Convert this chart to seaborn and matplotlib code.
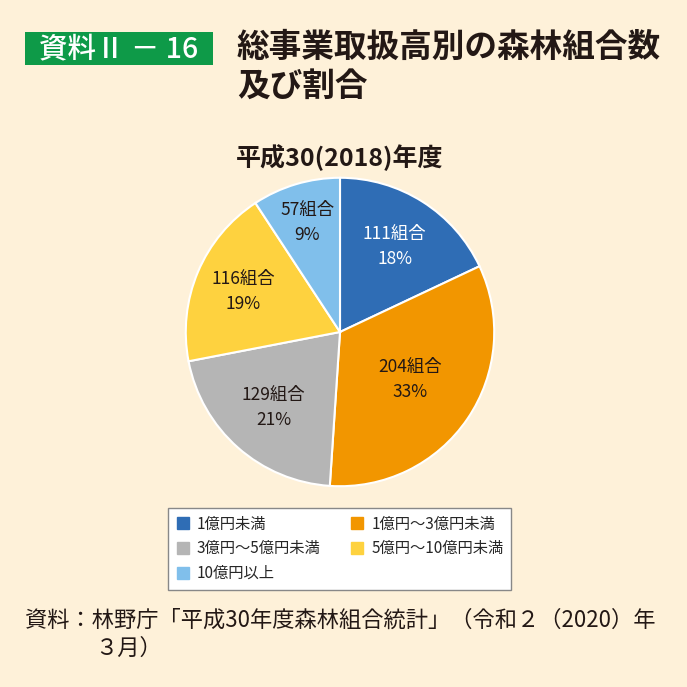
import matplotlib
matplotlib.use("Agg")
import matplotlib.pyplot as plt
import seaborn as sns
from matplotlib.patches import Rectangle
from matplotlib.lines import Line2D

sns.set_theme(style="white")
plt.rcParams['font.family'] = ['Noto Sans CJK JP', 'DejaVu Sans']

categories = ["1億円未満", "1億円～3億円未満", "3億円～5億円未満", "5億円～10億円未満", "10億円以上"]
counts = [111, 204, 129, 116, 57]
percents = [18, 33, 21, 19, 9]
colors = ["#2f6db5", "#f29600", "#b5b5b5", "#fed23f", "#80bfeb"]
label_colors = ["white", "#231815", "#231815", "#231815", "#231815"]
label_dist = [0.66, 0.55, 0.65, 0.68, 0.74]

BG = "#fef1d9"
fig = plt.figure(figsize=(6.87, 6.87), dpi=100, facecolor=BG)

# Title block
fig.patches.append(Rectangle((25/687, 1-65/687), 188/687, 33/687, transform=fig.transFigure,
                             facecolor="#0e9a48", edgecolor="none"))
fig.text(119/687, 1-49/687, "資料Ⅱ － 16", color="white", fontsize=20.5, ha="center", va="center",
         fontweight="medium")
fig.text(237/687, 1-47/687, "総事業取扱高別の森林組合数", color="#231815", fontsize=23.5,
         ha="left", va="center", fontweight="bold")
fig.text(237/687, 1-86/687, "及び割合", color="#231815", fontsize=23.5,
         ha="left", va="center", fontweight="bold")

fig.text(340/687, 1-158/687, "平成30(2018)年度", color="#231815", fontsize=18,
         ha="center", va="center", fontweight="bold")

# Pie
ax = fig.add_axes([185/687, 1-487/687, 310/687, 310/687])
ax.set_facecolor(BG)
labels = [f"{c}組合\n{p}%" for c, p in zip(counts, percents)]
wedges, texts = ax.pie(counts, colors=colors, startangle=90, counterclock=False,
                       labels=labels, labeldistance=1.0,
                       wedgeprops=dict(edgecolor="white", linewidth=1.5),
                       textprops=dict(fontsize=12.5, ha="center", va="center", linespacing=1.5))
for t, c, d in zip(texts, label_colors, label_dist):
    t.set_color(c)
    x, y = t.get_position()
    t.set_position((x * d, y * d))
    t.set_ha("center")
    t.set_va("center")
ax.set_xlim(-1.005, 1.005)
ax.set_ylim(-1.005, 1.005)
ax.set_aspect("equal")
ax.axis("off")

# Legend
order = [0, 2, 4, 1, 3]
handles = [Line2D([], [], marker="s", linestyle="none", markersize=8,
                  markerfacecolor=colors[i], markeredgecolor=colors[i]) for i in order]
leg = fig.legend(handles, [categories[i] for i in order], ncol=2,
                 loc="upper left", bbox_to_anchor=(168/687, 1-508/687), borderaxespad=0,
                 fontsize=11, frameon=True, fancybox=False,
                 edgecolor="#888888", facecolor="white", framealpha=1,
                 handletextpad=0.4, columnspacing=1.9, labelspacing=0.5,
                 borderpad=0.5, handlelength=1.0)
leg.get_frame().set_linewidth(1.0)

# Source
fig.text(25/687, 1-620/687, "資料：林野庁「平成30年度森林組合統計」（令和２（2020）年",
         color="#231815", fontsize=16, ha="left", va="center")
fig.text(95/687, 1-648/687, "３月）", color="#231815", fontsize=16, ha="left", va="center")

fig.savefig("out.png", dpi=100, facecolor=BG)
